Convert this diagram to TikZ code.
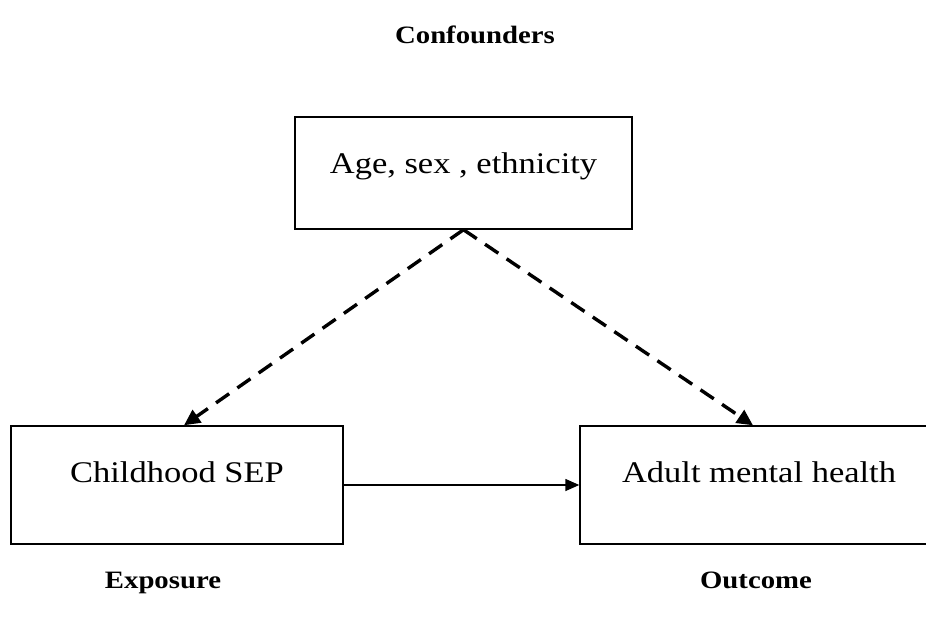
\documentclass[tikz,border=0pt]{standalone}
\usepackage{fontspec}
\setmainfont{Liberation Serif}[FakeStretch=1.15]
\usetikzlibrary{arrows.meta}
\begin{document}
\begin{tikzpicture}[x=1pt,y=-1pt,
  box/.style={draw, line width=1.4pt, inner sep=0pt},
  boxtext/.style={font=\fontsize{30}{34}\selectfont, inner sep=0pt, anchor=base},
  heading/.style={font=\fontsize{25}{29}\selectfont\bfseries, inner sep=0pt, anchor=base},
  confarrow/.style={dash pattern=on 16pt off 10pt, line width=3.4pt,
    -{Triangle[length=16pt,width=15pt]}},
  mainarrow/.style={line width=1.4pt, -{Triangle[length=14pt,width=12pt]}}]
  \useasboundingbox (0,0) rectangle (926,621);
  \clip (0,0) rectangle (926,621);

  % boxes
  \node[box, minimum width=337pt, minimum height=112pt] (conf) at (463.5,173) {};
  \node[box, minimum width=332pt, minimum height=118pt] (expo) at (177,485) {};
  \node[box, minimum width=358pt, minimum height=118pt] (outc) at (759,485) {};

  % box texts, set on their baselines
  \node[boxtext] (conftxt) at (conf.center) {Age, sex , ethnicity};
  \node[boxtext] (expotxt) at ([yshift=3pt]expo.center) {Childhood SEP};
  \node[boxtext] (outctxt) at ([yshift=3pt]outc.center) {Adult mental health};

  % headings
  \node[heading] (confhead) at (475,43) {Confounders};
  \node[heading] (expohead) at (163,588) {Exposure};
  \node[heading] (outchead) at (756,588) {Outcome};

  % connectors
  \draw[confarrow] (conf.south) -- ([xshift=7pt]expo.north);
  \draw[confarrow] (conf.south) -- ([xshift=-6pt]outc.north);
  \draw[mainarrow] (expo.east) -- (outc.west);
\end{tikzpicture}
\end{document}
